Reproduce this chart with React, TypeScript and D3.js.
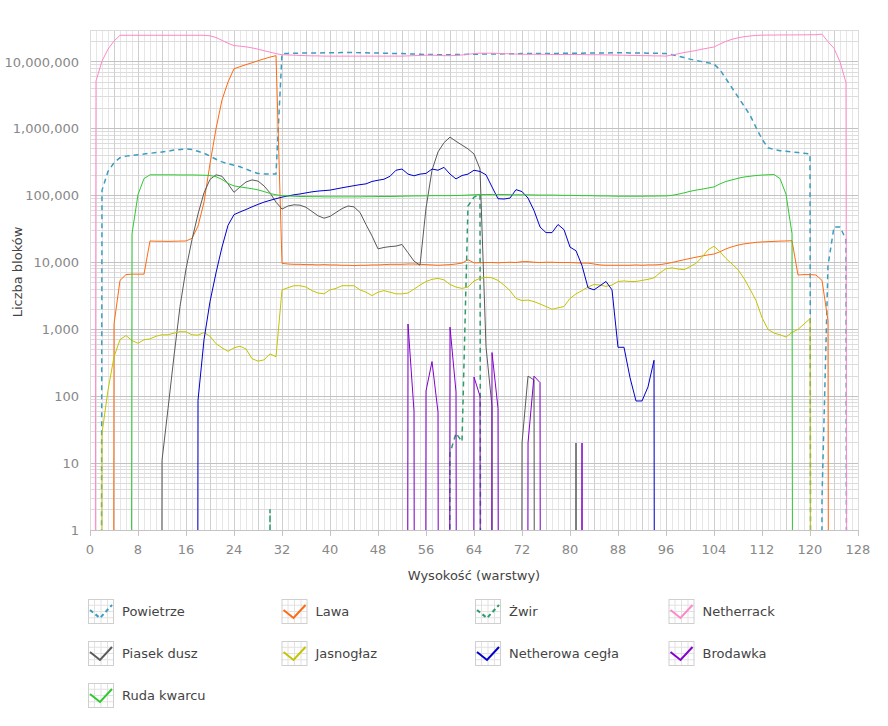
import { useEffect, useRef } from "react";
import * as d3 from "d3";

// index = layer (0..127)
const powietrze = [
  0, 0, 120000, 230000, 310000, 370000, 390000, 400000,
  410000, 420000, 430000, 440000, 450000, 460000, 480000, 490000,
  500000, 490000, 460000, 430000, 390000, 350000, 320000, 300000,
  285000, 270000, 250000, 230000, 215000, 210000, 210000, 210000,
  13300000, 13400000, 13500000, 13500000, 13600000, 13600000, 13600000, 13700000,
  13700000, 13700000, 13800000, 13800000, 13800000, 13700000, 13700000, 13600000,
  13600000, 13500000, 13400000, 13400000, 13300000, 13200000, 13100000, 13000000,
  12900000, 12900000, 12800000, 12800000, 12800000, 12900000, 12900000, 13000000,
  13000000, 13100000, 13100000, 13100000, 13100000, 13200000, 13200000, 13200000,
  13300000, 13300000, 13300000, 13400000, 13400000, 13400000, 13400000, 13500000,
  13500000, 13500000, 13500000, 13600000, 13600000, 13600000, 13600000, 13700000,
  13700000, 13700000, 13600000, 13600000, 13600000, 13500000, 13500000, 13400000,
  13300000, 12800000, 12200000, 11600000, 11000000, 10500000, 10100000, 9700000,
  9300000, 7600000, 5600000, 4100000, 3000000, 2200000, 1600000, 1050000,
  700000, 520000, 490000, 470000, 460000, 450000, 440000, 430000,
  420000, 0, 3, 9000, 34000, 34000, 22000, 0,
];

const lawa = [
  0, 0, 0, 0, 1200, 5400, 6600, 6700,
  6700, 6700, 21000, 20800, 20800, 20700, 20800, 20900,
  21000, 23000, 35000, 80000, 300000, 1000000, 2700000, 5000000,
  7900000, 8500000, 9100000, 9700000, 10400000, 11100000, 11800000, 12400000,
  9700, 9500, 9400, 9400, 9300, 9300, 9200, 9300,
  9200, 9200, 9100, 9100, 9000, 9100, 9100, 9200,
  9200, 9300, 9400, 9400, 9400, 9500, 9500, 9400,
  9300, 9200, 9100, 9200, 9300, 9500, 9800, 11000,
  9900, 9900, 10000, 10000, 9900, 10000, 10100, 10000,
  10300, 10300, 10100, 10000, 10100, 10100, 10000, 10000,
  10000, 9900, 9800, 9800, 9500, 9200, 9100, 9100,
  9100, 9100, 9100, 9200, 9100, 9200, 9200, 9300,
  9600, 10000, 10500, 11000, 11500, 12000, 12500, 13000,
  13400, 14500, 16000, 17200, 18200, 19000, 19500, 20000,
  20300, 20500, 20700, 20900, 21000, 21200, 6500, 6600,
  6600, 6500, 5400, 1350, 0, 0, 0, 0,
];

const zwir = [
  0, 0, 0, 0, 0, 0, 0, 0,
  0, 0, 0, 0, 0, 0, 0, 0,
  0, 0, 0, 0, 0, 0, 0, 0,
  0, 0, 0, 0, 0, 0, 2, 0,
  0, 0, 0, 0, 0, 0, 0, 0,
  0, 0, 0, 0, 0, 0, 0, 0,
  0, 0, 0, 0, 0, 0, 0, 0,
  0, 0, 0, 0, 14, 28, 21, 70000,
  95000, 104000, 0, 0, 0, 0, 0, 0,
  0, 0, 0, 0, 0, 0, 0, 0,
  0, 0, 0, 0, 0, 0, 0, 0,
  0, 0, 0, 0, 0, 0, 0, 0,
  0, 0, 0, 0, 0, 0, 0, 0,
  0, 0, 0, 0, 0, 0, 0, 0,
  0, 0, 0, 0, 0, 0, 0, 0,
  0, 0, 0, 0, 0, 0, 0, 0,
];

const netherrack = [
  0, 5200000, 10300000, 15500000, 20500000, 25000000, 25000000, 25000000,
  25000000, 25000000, 25000000, 25000000, 25000000, 25000000, 25000000, 25000000,
  25000000, 25000000, 25000000, 25000000, 24500000, 23200000, 21000000, 19000000,
  17500000, 17200000, 16800000, 16200000, 15500000, 14700000, 14000000, 13300000,
  12800000, 12700000, 12600000, 12500000, 12400000, 12300000, 12300000, 12200000,
  12200000, 12200000, 12200000, 12200000, 12200000, 12200000, 12200000, 12200000,
  12200000, 12200000, 12200000, 12200000, 12200000, 12300000, 12400000, 12500000,
  12600000, 12600000, 12500000, 12400000, 12400000, 12500000, 12700000, 13000000,
  13300000, 13500000, 13500000, 13500000, 13400000, 13300000, 13200000, 13100000,
  13000000, 13000000, 13000000, 13000000, 13000000, 12900000, 12900000, 12900000,
  12900000, 12900000, 12900000, 12800000, 12800000, 12800000, 12700000, 12700000,
  12600000, 12600000, 12500000, 12500000, 12400000, 12400000, 12300000, 12300000,
  12200000, 12700000, 13200000, 13800000, 14300000, 14800000, 15500000, 16100000,
  16700000, 18500000, 20300000, 21800000, 22900000, 23800000, 24400000, 24900000,
  25100000, 25200000, 25200000, 25300000, 25300000, 25300000, 25400000, 25400000,
  25500000, 25500000, 26000000, 20000000, 16000000, 10000000, 4900000, 0,
];

const piasekDusz = [
  0, 0, 0, 0, 0, 0, 0, 0,
  0, 0, 0, 0, 11, 65, 400, 2200,
  8000, 22000, 53000, 110000, 175000, 205000, 195000, 150000,
  112000, 135000, 160000, 172000, 165000, 140000, 110000, 80000,
  63000, 70000, 73000, 72000, 67000, 58000, 50000, 46000,
  49000, 56000, 64000, 70000, 68000, 56000, 37000, 25000,
  16000, 16800, 17300, 17600, 18600, 14000, 10500, 9100,
  65000, 240000, 450000, 620000, 750000, 650000, 570000, 500000,
  420000, 250000, 550, 70, 0, 0, 0, 0,
  20, 200, 175, 0, 0, 0, 0, 0,
  0, 20, 0, 0, 0, 0, 0, 0,
  0, 0, 0, 0, 0, 0, 0, 0,
  0, 0, 0, 0, 0, 0, 0, 0,
  0, 0, 0, 0, 0, 0, 0, 0,
  0, 0, 0, 0, 0, 0, 0, 0,
  0, 0, 0, 0, 0, 0, 0, 0,
];

const jasnoglaz = [
  0, 0, 28, 123, 390, 700, 810, 680,
  620, 700, 720, 790, 830, 830, 880, 925,
  920, 830, 820, 900, 790, 610, 530, 470,
  530, 560, 510, 365, 335, 350, 430, 390,
  3900, 4200, 4500, 4500, 4300, 3800, 3500, 3400,
  3900, 4100, 4500, 4500, 4500, 3900, 3600, 3200,
  3600, 3800, 3600, 3400, 3400, 3500, 4000, 4600,
  5200, 5600, 5800, 5500, 4700, 4300, 4100, 4300,
  5300, 5800, 6000, 5900, 5400, 4600, 3800, 2900,
  2700, 2750, 2600, 2400, 2200, 2000, 2100, 2200,
  2900, 3400, 3800, 4300, 4700, 4600, 4400, 4600,
  5200, 5300, 5200, 5200, 5400, 5600, 5900, 7000,
  8100, 8300, 8000, 7800, 8700, 9700, 12000, 15500,
  17500, 14500, 11500, 9500, 7800, 5800, 4000, 2700,
  1500, 1000, 880, 830, 770, 900, 1000, 1200,
  1450, 0, 0, 0, 0, 0, 0, 0,
];

const netherowaCegla = [
  0, 0, 0, 0, 0, 0, 0, 0,
  0, 0, 0, 0, 0, 0, 0, 0,
  0, 0, 87, 700, 2600, 7000, 17000, 36000,
  52000, 57000, 62000, 68000, 74000, 80000, 85000, 90000,
  95000, 99000, 103000, 106000, 110000, 114000, 117000, 119000,
  121000, 126000, 131000, 136000, 141000, 146000, 150000, 163000,
  170000, 176000, 195000, 240000, 250000, 210000, 198000, 210000,
  215000, 250000, 240000, 265000, 210000, 178000, 200000, 210000,
  240000, 230000, 205000, 135000, 90000, 89000, 92000, 123000,
  115000, 92000, 60000, 34000, 28000, 28000, 37000, 31000,
  17000, 15000, 9000, 4200, 3900, 4500, 5200, 3900,
  540, 540, 190, 85, 85, 138, 345, 0,
  0, 0, 0, 0, 0, 0, 0, 0,
  0, 0, 0, 0, 0, 0, 0, 0,
  0, 0, 0, 0, 0, 0, 0, 0,
  0, 0, 0, 0, 0, 0, 0, 0,
];

const brodawka = [
  0, 0, 0, 0, 0, 0, 0, 0,
  0, 0, 0, 0, 0, 0, 0, 0,
  0, 0, 0, 0, 0, 0, 0, 0,
  0, 0, 0, 0, 0, 0, 0, 0,
  0, 0, 0, 0, 0, 0, 0, 0,
  0, 0, 0, 0, 0, 0, 0, 0,
  0, 0, 0, 0, 0, 1200, 60, 0,
  120, 330, 58, 0, 1080, 116, 0, 0,
  194, 100, 0, 450, 66, 0, 0, 0,
  0, 20, 200, 160, 0, 0, 0, 0,
  0, 0, 20, 0, 0, 0, 0, 0,
  0, 0, 0, 0, 0, 0, 0, 0,
  0, 0, 0, 0, 0, 0, 0, 0,
  0, 0, 0, 0, 0, 0, 0, 0,
  0, 0, 0, 0, 0, 0, 0, 0,
  0, 0, 0, 0, 0, 0, 0, 0,
];

const rudaKwarcu = [
  0, 0, 0, 0, 0, 0, 0, 27000,
  104000, 180000, 205000, 205000, 205000, 205000, 205000, 204000,
  204000, 204000, 203000, 202000, 200000, 192000, 175000, 152000,
  140000, 135000, 131000, 127000, 122000, 115000, 108000, 103000,
  100000, 99000, 98000, 97000, 97000, 96500, 96500, 96000,
  96000, 96000, 96000, 96000, 96000, 96000, 96500, 96500,
  97000, 97000, 97000, 97500, 98000, 98500, 99000, 99000,
  99500, 100000, 100000, 100000, 100000, 100500, 101000, 102000,
  103000, 104000, 104000, 104000, 104000, 104000, 103500, 103000,
  103000, 103000, 102500, 102000, 102000, 102000, 101500, 101000,
  101000, 100500, 100000, 100000, 99500, 99000, 99000, 98500,
  98000, 98000, 98000, 98000, 98000, 98500, 98500, 99000,
  99000, 101000, 105000, 110000, 116000, 121000, 125000, 130000,
  135000, 150000, 163000, 172000, 182000, 190000, 195000, 200000,
  203000, 205000, 207000, 180000, 105000, 27000, 0, 0,
  0, 0, 0, 0, 0, 0, 0, 0,
];

const seriesNames = [
  "Powietrze", "Lawa", "Żwir", "Netherrack", "Piasek dusz",
  "Jasnogłaz", "Netherowa cegła", "Brodawka", "Ruda kwarcu",
];
const seriesValues = [
  powietrze, lawa, zwir, netherrack, piasekDusz,
  jasnoglaz, netherowaCegla, brodawka, rudaKwarcu,
];
const seriesColors = [
  "#3d9dc0", "#ff6a10", "#2f9a6c", "#ff88c8", "#5a5a5a",
  "#c4c400", "#0000cc", "#8400cc", "#30c830",
];
const seriesDash = [true, false, true, false, false, false, false, false, false];

const yTickValues = [1, 10, 100, 1000, 10000, 100000, 1000000, 10000000];
const xTickValues = [0, 8, 16, 24, 32, 40, 48, 56, 64, 72, 80, 88, 96, 104, 112, 120, 128];

export default function App() {
  const ref = useRef<SVGSVGElement>(null);

  useEffect(() => {
    if (!ref.current) return;
    const svg = d3.select(ref.current);
    svg.selectAll("*").remove();

    const font = "Verdana, 'DejaVu Sans', sans-serif";
    const left = 90, right = 858, top = 30, bottom = 530;

    const x = d3.scaleLinear().domain([0, 128]).range([left, right]);
    const y = d3.scaleLog().domain([1, 3e7]).range([bottom, top]);

    svg.append("defs").append("clipPath").attr("id", "plotClip")
      .append("rect")
      .attr("x", left).attr("y", top)
      .attr("width", right - left).attr("height", bottom - top);

    // grid
    const grid = svg.append("g").attr("shape-rendering", "crispEdges");
    const xs = x.ticks(128);
    const ys = y.ticks();
    grid.selectAll(".vmin").data(xs.filter((v) => v % 4 !== 0)).join("line")
      .attr("x1", (d) => x(d)).attr("x2", (d) => x(d))
      .attr("y1", top).attr("y2", bottom)
      .attr("stroke", "#e6e6e6");
    grid.selectAll(".hmin").data(ys.filter((v) => Math.abs(Math.log10(v) % 1) > 1e-6)).join("line")
      .attr("x1", left).attr("x2", right)
      .attr("y1", (d) => y(d)).attr("y2", (d) => y(d))
      .attr("stroke", "#dcdcdc");
    grid.selectAll(".vmaj").data(xs.filter((v) => v % 4 === 0)).join("line")
      .attr("x1", (d) => x(d)).attr("x2", (d) => x(d))
      .attr("y1", top).attr("y2", bottom)
      .attr("stroke", "#cfcfcf");
    grid.selectAll(".hmaj").data(yTickValues).join("line")
      .attr("x1", left).attr("x2", right)
      .attr("y1", (d) => y(d)).attr("y2", (d) => y(d))
      .attr("stroke", "#c2c2c2");
    grid.append("rect")
      .attr("x", left).attr("y", top)
      .attr("width", right - left).attr("height", bottom - top)
      .attr("fill", "none").attr("stroke", "#dcdcdc");

    // series
    const line = d3.line<number>()
      .x((_, i) => x(i))
      .y((d) => y(d > 0 ? d : 1e-60));

    const plot = svg.append("g").attr("clip-path", "url(#plotClip)");
    seriesValues.forEach((vals, i) => {
      plot.append("path")
        .datum(vals)
        .attr("d", line)
        .attr("fill", "none")
        .attr("stroke", seriesColors[i])
        .attr("stroke-width", seriesDash[i] ? 1.5 : 1)
        .attr("stroke-dasharray", seriesDash[i] ? "5,4" : null)
        .attr("stroke-linejoin", "round");
    });

    // x axis
    const xAxis = svg.append("g");
    xAxis.append("line")
      .attr("x1", left).attr("x2", right)
      .attr("y1", bottom + 0.5).attr("y2", bottom + 0.5)
      .attr("stroke", "#c4c4c4");
    xAxis.selectAll(".tick").data(xTickValues).join("line")
      .attr("x1", (d) => x(d) + 0.5).attr("x2", (d) => x(d) + 0.5)
      .attr("y1", bottom).attr("y2", bottom + 6)
      .attr("stroke", "#c4c4c4");
    xAxis.selectAll("text").data(xTickValues).join("text")
      .attr("x", (d) => x(d))
      .attr("y", 554)
      .attr("text-anchor", "middle")
      .attr("fill", "#888")
      .style("font-family", font)
      .style("font-size", "13px")
      .text((d) => String(d));

    // y axis labels
    svg.append("g").selectAll("text").data(yTickValues).join("text")
      .attr("x", 79)
      .attr("y", (d) => y(d))
      .attr("dy", "0.36em")
      .attr("text-anchor", "end")
      .attr("fill", "#888")
      .style("font-family", font)
      .style("font-size", "13px")
      .text((d) => d3.format(",")(d));

    // axis titles
    svg.append("text")
      .attr("x", (left + right) / 2)
      .attr("y", 580)
      .attr("text-anchor", "middle")
      .attr("fill", "#444")
      .style("font-family", font)
      .style("font-size", "13px")
      .text("Wysokość (warstwy)");

    svg.append("text")
      .attr("transform", "translate(22,272) rotate(-90)")
      .attr("text-anchor", "middle")
      .attr("fill", "#444")
      .style("font-family", font)
      .style("font-size", "13px")
      .text("Liczba bloków");

    // legend
    const legend = svg.append("g");
    seriesNames.forEach((name, i) => {
      const bx = 88 + (i % 4) * 193.5;
      const by = 599 + Math.floor(i / 4) * 42;
      const item = legend.append("g").attr("transform", `translate(${bx},${by})`);
      const cw = 26, ch = 25;
      [1, 2, 3].forEach((k) => {
        item.append("line")
          .attr("x1", (cw * k) / 4).attr("x2", (cw * k) / 4)
          .attr("y1", 0).attr("y2", ch)
          .attr("stroke", "#e2e2e2");
        item.append("line")
          .attr("x1", 0).attr("x2", cw)
          .attr("y1", (ch * k) / 4).attr("y2", (ch * k) / 4)
          .attr("stroke", "#e2e2e2");
      });
      item.append("rect")
        .attr("x", 0.5).attr("y", 0.5)
        .attr("width", cw - 1).attr("height", ch - 1)
        .attr("fill", "none")
        .attr("stroke", "#cfcfcf");
      item.append("path")
        .attr("d", "M2,11L12,19L24,6")
        .attr("fill", "none")
        .attr("stroke", seriesColors[i])
        .attr("stroke-width", 2)
        .attr("stroke-dasharray", seriesDash[i] ? "4,3" : null);
      item.append("text")
        .attr("x", 34)
        .attr("y", ch / 2)
        .attr("dy", "0.36em")
        .attr("fill", "#444")
        .style("font-family", font)
        .style("font-size", "13px")
        .text(name);
    });
  }, []);

  return (
    <div style={{ position: "absolute", left: 0, top: 0 }}>
      <svg ref={ref} width={888} height={726}></svg>
    </div>
  );
}
